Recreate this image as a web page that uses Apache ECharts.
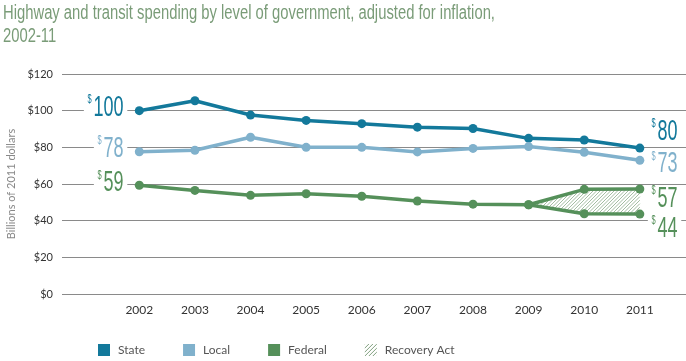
<!DOCTYPE html>
<html><head><meta charset="utf-8">
<script src="https://cdn.jsdelivr.net/npm/echarts@6/dist/echarts.min.js"></script>
<style>html,body{margin:0;padding:0;background:#fff}#c{width:686px;height:361px}</style>
</head><body><div id="c"></div>
<script>
var years = [2002, 2003, 2004, 2005, 2006, 2007, 2008, 2009, 2010, 2011];
var stateVals = [100, 105.4, 97.6, 94.7, 92.9, 91.0, 90.3, 84.9, 84.0, 79.6];
var localVals = [77.6, 78.4, 85.5, 80.0, 80.0, 77.5, 79.4, 80.4, 77.3, 72.9];
// federal spending excluding Recovery Act funds
var federalVals = [59.3, 56.5, 53.8, 54.7, 53.3, 50.7, 49.0, 48.7, 43.8, 43.6];
// Recovery Act funds on top of federal
var recoveryVals = [0, 0, 0, 0, 0, 0, 0, 0, 13.3, 13.7];
var yTicks = [0, 20, 40, 60, 80, 100, 120];
var titleLines = ['Highway and transit spending by level of government, adjusted for inflation,', '2002-11'];

var C_STATE = '#13799b', C_LOCAL = '#80b1cc', C_FED = '#55905a';
var C_HATCH = '#a3bda2';
var FONT = 'Lato, sans-serif';
var NUMFONT = '"Liberation Sans", Arial, sans-serif';

// hatch pattern for the legend icon
var pc = document.createElement('canvas');
pc.width = 4; pc.height = 4;
var g = pc.getContext('2d');
g.fillStyle = '#ffffff'; g.fillRect(0, 0, 4, 4);
g.strokeStyle = '#7fa07e'; g.lineWidth = 1;
g.beginPath();
g.moveTo(0, 4); g.lineTo(4, 0);
g.moveTo(-1, 1); g.lineTo(1, -1);
g.moveTo(3, 5); g.lineTo(5, 3);
g.stroke();
var hatch = { image: pc, repeat: 'repeat' };

function mk(vals, from) {
  var out = [];
  for (var i = from; i < years.length; i++) out.push([years[i], vals[i]]);
  return out;
}
var fedTotal = federalVals.map(function (v, i) { return +(v + recoveryVals[i]).toFixed(2); });
var raStart = 7;
var raData = [];
for (var i = raStart; i < years.length; i++) raData.push([years[i], federalVals[i], fedTotal[i]]);

function lineSeries(name, color, data) {
  return {
    name: name, type: 'line', data: data, z: 3,
    symbol: 'circle', symbolSize: 9,
    lineStyle: { width: 3.5, color: color }, itemStyle: { color: color },
    animation: false
  };
}

// restrict [lo,hi] to where linear h(x) <= 0
function clip(h, iv) {
  if (!iv) return null;
  var lo = iv[0], hi = iv[1], hl = h(lo), hh = h(hi);
  if (hl <= 0 && hh <= 0) return iv;
  if (hl > 0 && hh > 0) return null;
  var x0 = lo + (hi - lo) * hl / (hl - hh);
  return hl <= 0 ? [lo, x0] : [x0, hi];
}

var chart = echarts.init(document.getElementById('c'));
chart.setOption({
  animation: false,
  legend: {
    left: 98, top: 344, padding: 0, itemWidth: 12, itemHeight: 12, itemGap: 38,
    icon: 'rect',
    textStyle: { fontFamily: FONT, fontSize: 12, color: '#555', padding: [0, 0, 0, 3] },
    data: [
      { name: 'State', itemStyle: { color: C_STATE } },
      { name: 'Local', itemStyle: { color: C_LOCAL } },
      { name: 'Federal', itemStyle: { color: C_FED } },
      { name: 'Recovery Act', itemStyle: { color: hatch } }
    ]
  },
  grid: { left: 62, right: 0, top: 74, bottom: 67, containLabel: false, outerBoundsMode: 'none' },
  xAxis: {
    type: 'value', min: 2000.61, max: 2011.83,
    axisLine: { show: false }, axisTick: { show: false }, splitLine: { show: false },
    axisLabel: { customValues: years, formatter: function (v) { return String(v); }, color: '#333', fontFamily: FONT, fontSize: 12, margin: 10 }
  },
  yAxis: {
    type: 'value', min: yTicks[0], max: yTicks[yTicks.length - 1], interval: 20,
    name: 'Billions of 2011 dollars', nameLocation: 'middle', nameGap: 45,
    nameTextStyle: { color: '#888', fontFamily: FONT, fontSize: 11 },
    axisLine: { show: false }, axisTick: { show: false },
    axisLabel: { formatter: '${value}', color: '#333', fontFamily: FONT, fontSize: 11, margin: 9 },
    splitLine: { lineStyle: { color: '#8a8a8a', width: 1 } }
  },
  series: [
    {
      name: 'Recovery Act', type: 'custom', data: raData, z: 1, silent: true, animation: false,
      itemStyle: { color: hatch },
      encode: { x: 0, y: [1, 2] },
      renderItem: function (params, api) {
        var k = params.dataIndex;
        if (k >= raData.length - 1) return null;
        var a = raData[k], b = raData[k + 1];
        var A1 = api.coord([a[0], a[2]]), B1 = api.coord([b[0], b[2]]);
        var A0 = api.coord([a[0], a[1]]), B0 = api.coord([b[0], b[1]]);
        var xa = A1[0], xb = B1[0];
        var st = (B1[1] - A1[1]) / (xb - xa), sb = (B0[1] - A0[1]) / (xb - xa);
        var top = function (x) { return A1[1] + st * (x - xa); };
        var bot = function (x) { return A0[1] + sb * (x - xa); };
        var cmin = Math.min(xa + A1[1], xb + B1[1]);
        var cmax = Math.max(xa + A0[1], xb + B0[1]);
        var step = 3.5, kids = [];
        for (var c = Math.ceil(cmin / step) * step; c <= cmax; c += step) {
          var iv = clip(function (x) { return x + top(x) - c; }, [xa, xb]);
          iv = clip(function (x) { return c - x - bot(x); }, iv);
          if (iv && iv[1] - iv[0] > 0.3) {
            kids.push({ type: 'line', shape: { x1: iv[0], y1: c - iv[0], x2: iv[1], y2: c - iv[1] },
              style: { stroke: C_HATCH, lineWidth: 1 } });
          }
        }
        return { type: 'group', children: kids };
      }
    },
    lineSeries('State', C_STATE, mk(stateVals, 0)),
    lineSeries('Local', C_LOCAL, mk(localVals, 0)),
    lineSeries('Federal', C_FED, mk(fedTotal, 0)),
    lineSeries('Federal (excl. Recovery Act)', C_FED, mk(federalVals, raStart))
  ]
});

// value call-outs placed through the chart's own coordinate conversion
var SX = 0.62;
function callout(year, val, color, side, dy) {
  var p = chart.convertToPixel({ gridIndex: 0 }, [year, val]);
  var left = side === 'left';
  return {
    type: 'text', z: 10,
    x: left ? p[0] - 12 : p[0] + 8,
    y: p[1] + dy,
    scaleX: SX, scaleY: 1,
    style: {
      text: '{a|$}{b|' + Math.round(val) + '}',
      align: left ? 'right' : 'left', verticalAlign: 'middle',
      backgroundColor: '#fff', padding: [0, 6, 0, 6],
      rich: {
        a: { fontFamily: NUMFONT, fontSize: 12, fill: color, verticalAlign: 'top', lineHeight: 12, padding: [0, 3, 0, 0] },
        b: { fontFamily: NUMFONT, fontSize: 29, fill: color, lineHeight: 28 }
      }
    }
  };
}
var last = years.length - 1;
var graphics = [
  {
    type: 'text', x: 3, y: 2, scaleX: 0.74, scaleY: 1,
    style: { text: titleLines.join('\n'), fontFamily: NUMFONT, fontSize: 20, lineHeight: 23, fill: '#7a9c78' }
  },
  callout(years[0], stateVals[0], C_STATE, 'left', -3),
  callout(years[0], localVals[0], C_LOCAL, 'left', -3),
  callout(years[0], fedTotal[0], C_FED, 'left', -2),
  callout(years[last], stateVals[last], C_STATE, 'right', -16),
  callout(years[last], localVals[last], C_LOCAL, 'right', 4),
  callout(years[last], fedTotal[last], C_FED, 'right', 10),
  callout(years[last], federalVals[last], C_FED, 'right', 15)
];
chart.setOption({ graphic: graphics });
</script></body></html>
